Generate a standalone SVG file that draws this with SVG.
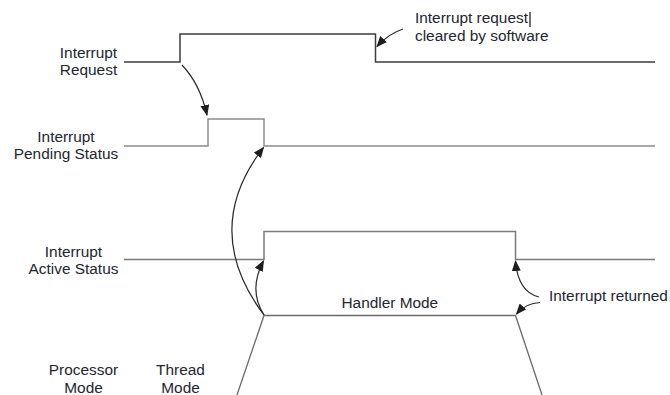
<svg xmlns="http://www.w3.org/2000/svg" width="670" height="395" viewBox="0 0 670 395">
<style>
text{font-family:"Liberation Sans",Arial,sans-serif;font-size:15.4px;fill:#23262f}
.mid{text-anchor:middle}
.sig{fill:none;stroke-width:1.5}
.req{stroke:#3c3c3c}
.pen{stroke:#8c8c8c}
.act{stroke:#7a7a7a}
.mode{stroke:#6a6a6a;stroke-width:1.3;fill:none}
.arr{fill:none;stroke:#2a2a2a;stroke-width:1.2;marker-end:url(#ah)}
</style>
<defs>
<marker id="ah" markerUnits="userSpaceOnUse" markerWidth="11" markerHeight="9" refX="10" refY="4.5" orient="auto">
<path d="M0,0 L11,4.5 L0,9 z" fill="#1e1e1e"/>
</marker>
</defs>
<rect width="670" height="395" fill="#fff"/>
<g id="label-request"><text class="mid" x="88.5" y="57.5">Interrupt</text><text class="mid" x="88.5" y="75">Request</text></g>
<g id="label-pending"><text class="mid" x="66" y="141.5">Interrupt</text><text class="mid" x="66" y="159">Pending Status</text></g>
<g id="label-active"><text class="mid" x="73.5" y="256.5">Interrupt</text><text class="mid" x="73.5" y="274">Active Status</text></g>
<g id="label-processor"><text class="mid" x="83.5" y="375">Processor</text><text class="mid" x="83.5" y="392.5">Mode</text></g>
<g id="label-thread"><text class="mid" x="180.5" y="375">Thread</text><text class="mid" x="180.5" y="392.5">Mode</text></g>
<g id="signal-request"><path class="sig req" d="M124,62 H180 V34 H375.5 V62 H655"/></g>
<g id="signal-pending"><path class="sig pen" d="M124,146 H208 V119 H264 V146 H655"/></g>
<g id="signal-active"><path class="sig act" d="M124,259.5 H264 V231.5 H515.5 V259.5 H655"/></g>
<g id="mode-handler"><path class="mode" d="M237,395 L264,315.5 H515.5 L542,395"/><text x="341.5" y="307.5">Handler Mode</text></g>
<g id="note-cleared"><text x="415" y="23.3">Interrupt request</text><text x="415" y="40.7">cleared by software</text><line x1="530" y1="12" x2="530" y2="27" stroke="#111" stroke-width="1.2"/></g>
<g id="note-returned"><text x="549" y="300.5">Interrupt returned</text></g>
<g id="connectors">
<path class="arr" d="M182,65 Q200,84 207,115"/>
<path class="arr" d="M403,29 Q388,34 377,46.5"/>
<path class="arr" d="M264,315 Q200,230 263.5,147.5"/>
<path class="arr" d="M264,315 Q248,290 263.5,261"/>
<path class="arr" d="M539,297 Q518,292 515.5,261"/>
<path class="arr" d="M540,302.5 Q526,303 516.5,314"/>
</g>
</svg>
